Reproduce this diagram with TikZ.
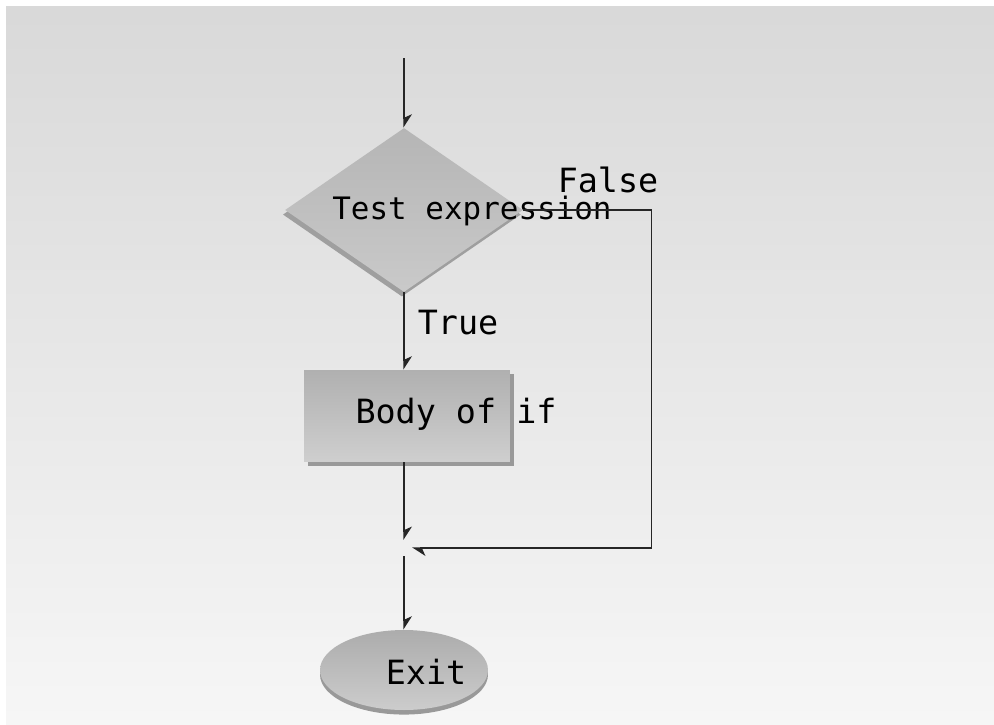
\documentclass[tikz,border=0pt]{standalone}
\usepackage{fontspec}
\usepackage{tikz}
\usetikzlibrary{arrows.meta,shapes.geometric,shadows,calc}
\newfontfamily\chartfont{DejaVu Sans Mono}

\begin{document}
\begin{tikzpicture}[x=0.02cm, y=-0.02cm,
	flow/.style = {draw=black!85, line width=.8pt, -{Stealth[harpoon, length=7pt, width=9pt, inset=2pt]}},
	decision/.style = {diamond, inner sep=0, minimum width=4.76cm, minimum height=3.28cm,
		top color=gray!58, bottom color=gray!42,
		drop shadow={shadow xshift=-1.2pt, shadow yshift=-2.6pt, fill=gray!75, opacity=1}},
	process/.style = {rectangle, inner sep=0, minimum width=4.12cm, minimum height=1.84cm,
		top color=gray!62, bottom color=gray!38,
		drop shadow={shadow xshift=2.3pt, shadow yshift=-2.3pt, fill=gray!80, opacity=1}},
	terminal/.style = {ellipse, inner sep=0, minimum width=3.36cm, minimum height=1.6cm,
		top color=gray!65, bottom color=gray!40,
		drop shadow={shadow xshift=0pt, shadow yshift=-2.6pt, fill=gray!80, opacity=1}},
	tag/.style = {inner sep=0, font=\chartfont\fontsize{19}{22}\selectfont}]
	% background
	\fill[white] (0,0) rectangle (994,724);
	\shade[top color=gray!30, bottom color=gray!7] (6,6) rectangle (994,724);
	\useasboundingbox (0,0) rectangle (994,724);

	% shapes
	\coordinate (start) at (404,58);
	\node[decision] (test) at (404,210) {};
	\node[process] (body) at (407,416) {};
	\coordinate (join) at (404,548);
	\node[terminal] (exit) at (404,670) {};

	% texts
	\node[tag, font=\chartfont\fontsize{17.6}{20}\selectfont] (testtext) at (472,211) {Test expression};
	\node[tag] (falsetext) at (608,180) {False};
	\node[tag] (truetext) at (458,323) {True};
	\node[tag] (bodytext) at (456,414) {Body of if};
	\node[tag] (exittext) at (426,672) {Exit};

	% connectors
	\draw[flow] (start) -- (test.north);
	\draw[flow] (test.south) -- (test.south |- body.north);
	\draw[flow] (body.south -| join) -- ($(join)+(0,-8)$);
	\draw[flow] (test.east) -- ++(128,0) |- ($(join)+(8,0)$);
	\draw[flow] ($(join)+(0,8)$) -- (exit.north);
\end{tikzpicture}
\end{document}
